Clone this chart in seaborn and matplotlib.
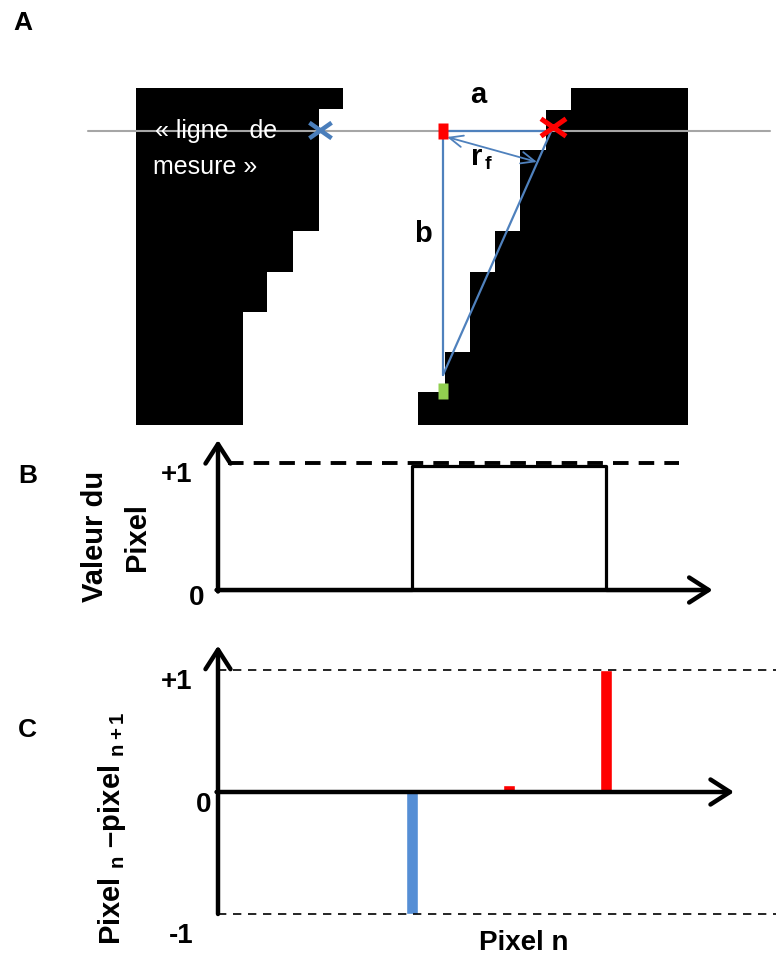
import numpy as np
import pandas as pd
import matplotlib
matplotlib.use('Agg')
import matplotlib.pyplot as plt
from matplotlib.path import Path
import seaborn as sns

sns.set_theme(style='white')
plt.rcParams['font.family'] = ['Liberation Sans', 'DejaVu Sans']
plt.rcParams['text.color'] = 'black'
plt.rcParams['mathtext.fontset'] = 'custom'
plt.rcParams['mathtext.rm'] = 'Liberation Sans:bold'
plt.rcParams['mathtext.bf'] = 'Liberation Sans:bold'

W, H = 776, 956

# --- panel A : binary image (pixel coordinates of the picture) ---
left_rows = [88, 109, 231, 272, 312, 425]
left_edge_x = [343, 319, 293, 267, 243]
right_rows = [88, 110, 150, 231, 272, 352, 392, 425]
right_edge_x = [571, 546, 520, 495, 470, 445, 418]
block_left = 136
block_right = 688
line_y = 131
blue_cross = (320, 130)
red_cross = (553, 127)
red_point = (443, 131)
green_point = (443, 391)
b_foot = (443, 375)
rf_start = (447, 137)
rf_end = (537, 162)

# --- panel B : pixel value along the measuring line ---
pixel_pos = [0, 2, 4, 5.0]
pixel_val = [0, 1, 0, 0]

# --- panel C : pixel n - pixel n+1 ---
diff_pos = [2, 3, 4]
diff_val = [-1, 0.06, 1]
diff_kind = ['descente', 'pic', 'montee']
diff_colors = {'descente': '#558ED5', 'pic': '#FF0000', 'montee': '#FF0000'}

fig = plt.figure(figsize=(W / 100, H / 100), dpi=100)

ax_a = fig.add_axes([0, 0, 1, 1])
ax_a.set_xlim(0, W)
ax_a.set_ylim(H, 0)
ax_a.axis('off')

ax_a.fill_betweenx(left_rows, block_left, left_edge_x + [left_edge_x[-1]],
                   step='post', color='black', lw=0)
ax_a.fill_betweenx(right_rows, right_edge_x + [right_edge_x[-1]], block_right,
                   step='post', color='black', lw=0)

ax_a.plot([88, 770], [line_y, line_y], color='#a6a6a6', lw=1.5, zorder=3)

blue = '#4F81BD'
ax_a.plot([red_point[0], b_foot[0]], [red_point[1] + 7, b_foot[1]], color=blue, lw=1.6, zorder=4)
ax_a.plot([b_foot[0], red_cross[0]], [b_foot[1], red_cross[1]], color=blue, lw=1.6, zorder=4)
ax_a.plot([red_point[0] + 5, red_cross[0] - 8], [line_y, line_y], color=blue, lw=1.6, zorder=4)
ax_a.annotate('', xy=rf_end, xytext=rf_start,
              arrowprops=dict(arrowstyle='<->,head_length=0.7,head_width=0.3', color=blue,
                              lw=1.3, shrinkA=0, shrinkB=0, mutation_scale=14), zorder=4)

cross = Path([(-1, -0.7), (1, 0.7), (-1, 0.7), (1, -0.7)],
             [Path.MOVETO, Path.LINETO, Path.MOVETO, Path.LINETO])
rect = [(-0.7, -1), (0.7, -1), (0.7, 1), (-0.7, 1)]
ax_a.plot(*blue_cross, marker=cross, ms=16, mew=3.2, color='#4A7EBB', mfc='none', zorder=5)
ax_a.plot(*red_cross, marker=cross, ms=18, mew=3.6, color='#FF0000', mfc='none', zorder=5)
ax_a.plot(*red_point, marker=rect, ms=11, color='#FF0000', mec='none', zorder=5)
ax_a.plot(*green_point, marker=rect, ms=11, color='#92D050', mec='none', zorder=5)

ax_a.text(155, 138, '\u00ab ligne   de', color='white', fontsize=18, zorder=6)
ax_a.text(153, 174, 'mesure \u00bb', color='white', fontsize=18, zorder=6)
ax_a.text(478, 103, 'a', fontsize=21, weight='bold', ha='center')
ax_a.text(423, 242, 'b', fontsize=21, weight='bold', ha='center')
ax_a.text(471, 165, 'r', fontsize=21, weight='bold')
ax_a.text(485, 169, 'f', fontsize=14, weight='bold')

# panel letters
ax_a.text(13, 30, 'A', fontsize=19, weight='bold')
ax_a.text(18, 483, 'B', fontsize=19, weight='bold')
ax_a.text(18, 737, 'C', fontsize=19, weight='bold')

# tick labels
for x, y, s in [(192, 482, '+1'), (204, 605, '0'),
                (192, 689, '+1'), (211, 812, '0'), (193, 943, '-1')]:
    ax_a.text(x, y, s, fontsize=20, weight='bold', ha='right')

ax_a.text(103, 536, 'Valeur du', fontsize=21, weight='bold', rotation=90,
          rotation_mode='anchor', ha='center')
ax_a.text(145, 537, 'Pixel', fontsize=21, weight='bold', rotation=90,
          rotation_mode='anchor', ha='center')
ax_a.text(120, 828, 'Pixel $_{\\mathrm{n}}$ \u2013pixel $_{\\mathrm{n+1}}$', fontsize=21,
          weight='bold', rotation=90, rotation_mode='anchor', ha='center')
ax_a.text(524, 950, 'Pixel n', fontsize=20, weight='bold', ha='center')


def pix_axes(x0, xper, xlim, y0, yper, ylim):
    left = x0 + xlim[0] * xper
    right = x0 + xlim[1] * xper
    top = y0 - ylim[1] * yper
    bot = y0 - ylim[0] * yper
    ax = fig.add_axes([left / W, 1 - bot / H, (right - left) / W, (bot - top) / H])
    ax.set_xlim(*xlim)
    ax.set_ylim(*ylim)
    ax.axis('off')
    return ax


arrow = dict(arrowstyle='->,head_length=0.7,head_width=0.45', color='black', lw=3.2,
             shrinkA=0, shrinkB=0, mutation_scale=20)

# ---------- B ----------
ax_b = pix_axes(218, 97, (-0.3, 5.8), 590, 124, (-0.3, 1.3))
sns.lineplot(x=pixel_pos, y=pixel_val, drawstyle='steps-post', color='black', lw=2.3,
             estimator=None, ax=ax_b)
ax_b.plot([0.1, 4.75], [1.025, 1.025], color='black', lw=2.8, ls=(0, (4, 2.6)))
ax_b.annotate('', xy=(5.1, 0), xytext=(-0.015, 0), arrowprops=arrow)
ax_b.annotate('', xy=(0, 1.21), xytext=(0, -0.012), arrowprops=arrow)
ax_b.set_xlim(-0.3, 5.8)
ax_b.set_ylim(-0.3, 1.3)

# ---------- C ----------
ax_c = pix_axes(218, 97, (-0.3, 5.8), 792, 122, (-1.15, 1.3))
sns.barplot(x=diff_pos, y=diff_val, hue=diff_kind, palette=diff_colors, native_scale=True,
            width=0.12, saturation=1, errorbar=None, legend=False, ax=ax_c, zorder=2)
ax_c.plot([0, 5.8], [1, 1], color='black', lw=1.2, ls=(0, (5, 4)))
ax_c.plot([0, 5.8], [-1, -1], color='black', lw=1.2, ls=(0, (5, 4)))
ax_c.annotate('', xy=(5.32, 0), xytext=(-0.015, 0), arrowprops=arrow)
ax_c.annotate('', xy=(0, 1.2), xytext=(0, -1.0), arrowprops=arrow)
ax_c.set_xlim(-0.3, 5.8)
ax_c.set_ylim(-1.15, 1.3)
ax_c.axis('off')

fig.savefig('out.png', dpi=100)
